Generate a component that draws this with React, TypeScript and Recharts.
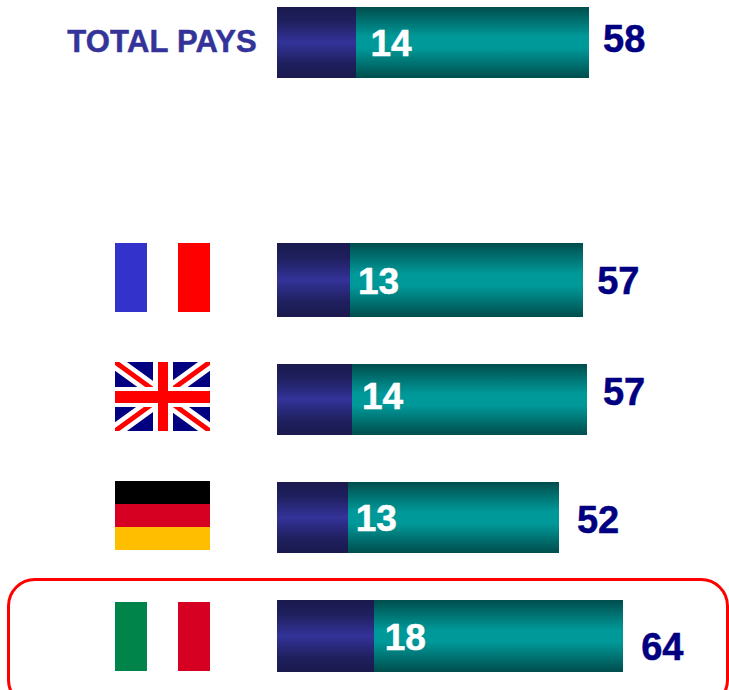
import React from 'react';
import { BarChart, Bar, XAxis, YAxis, LabelList } from 'recharts';

const categories = ['TOTAL PAYS', ' ', 'France', 'Royaume-Uni', 'Allemagne', 'Italie'];
const firstValues = [14.7, 0, 13.6, 13.9, 13.2, 18];
const totalValues = [57.8, 0, 56.7, 57.4, 52.2, 64.1];
const firstLabels = ['14', '', '13', '14', '13', '18'];
const totalLabels = ['58', '', '57', '57', '52', '64'];

const rows = categories.map((name, i) => ({
  name,
  first: firstValues[i],
  rest: totalValues[i] - firstValues[i],
}));

const innerNudge = [[14, 0], [0, 0], [7.5, 0], [10, -3.5], [7.5, 0], [10.5, 0]];
const outerNudge = [[14, -4.5], [0, 0], [14, 0], [16, -7.5], [18, 1.5], [18, 10]];
const extraHeight = [0, 0, 3, 0, 0, 1];
const barShift = [0, 0, 0, 0, 0, -1];
const flagNudge = [0, 0, -2.5, -2.5, -2, 0];

const FONT = '"Liberation Sans", Arial, sans-serif';

function FlagTick(props: any) {
  const { y, payload, index } = props;
  const name = payload.value;
  if (name === 'TOTAL PAYS') {
    return (
      <text x={257} y={y} dy={9.5} textAnchor="end" fontFamily={FONT} fontWeight="bold" fontSize={31} fill="#333399" stroke="#333399" strokeWidth={0.5} letterSpacing={0.2}>
        {name}
      </text>
    );
  }
  const top = Math.round(y - 34.5 + (flagNudge[index] || 0));
  const x = 115;
  const w = 95;
  const h = 69;
  if (name === 'France' || name === 'Italie') {
    const a = name === 'France' ? '#3333CC' : '#00844A';
    const c = name === 'France' ? '#FF0000' : '#D60022';
    return (
      <g>
        <rect x={x} y={top} width={32} height={h} fill={a} />
        <rect x={x + 63} y={top} width={32} height={h} fill={c} />
      </g>
    );
  }
  if (name === 'Allemagne') {
    return (
      <g>
        <rect x={x} y={top} width={w} height={23} fill="#000000" />
        <rect x={x} y={top + 23} width={w} height={23} fill="#D60022" />
        <rect x={x} y={top + 46} width={w} height={23} fill="#FFBF00" />
      </g>
    );
  }
  if (name === 'Royaume-Uni') {
    const r = x + w;
    const b = top + h;
    return (
      <g>
        <clipPath id="ukClip"><rect x={x} y={top} width={w} height={h} /></clipPath>
        <g clipPath="url(#ukClip)">
          <rect x={x} y={top} width={w} height={h} fill="#000080" />
          <path d={`M${x} ${top}L${r} ${b}M${r} ${top}L${x} ${b}`} stroke="#fff" strokeWidth={14} />
          <path d={`M${x} ${top}L${r} ${b}M${r} ${top}L${x} ${b}`} stroke="#FF0000" strokeWidth={5} />
          <rect x={x + 38} y={top} width={20} height={h} fill="#fff" />
          <rect x={x} y={top + 25} width={w} height={20} fill="#fff" />
          <rect x={x + 43} y={top} width={10} height={h} fill="#FF0000" />
          <rect x={x} y={top + 29} width={w} height={12} fill="#FF0000" />
        </g>
      </g>
    );
  }
  return null;
}

function GradBar(props: any) {
  const { x, y, width, height, index, fill } = props;
  if (!width) return null;
  const e = extraHeight[index] || 0;
  const left = Math.round(x);
  const right = Math.round(x + width);
  const top = Math.round(y - e / 2) + (barShift[index] || 0);
  return <rect x={left} y={top} width={right - left} height={Math.round(height + e)} fill={fill} shapeRendering="crispEdges" />;
}

function InnerLabel(props: any) {
  const { x, y, height, index } = props;
  const t = firstLabels[index];
  if (!t) return null;
  const [dx, dy] = innerNudge[index];
  return (
    <text x={x + dx} y={y + height / 2 + dy} dy={13.5} fontFamily={FONT} fontWeight="bold" fontSize={37} fill="#FFFFFF" stroke="#FFFFFF" strokeWidth={0.5}>
      {t}
    </text>
  );
}

function OuterLabel(props: any) {
  const { x, y, width, height, index } = props;
  const t = totalLabels[index];
  if (!t) return null;
  const [dx, dy] = outerNudge[index];
  return (
    <text x={x + width + dx} y={y + height / 2 + dy} dy={13.5} fontFamily={FONT} fontWeight="bold" fontSize={38} fill="#000080" stroke="#000080" strokeWidth={0.5}>
      {t}
    </text>
  );
}

export default function App() {
  return (
    <div style={{ position: 'absolute', left: 0, top: 0, width: 729, height: 690, overflow: 'hidden', background: '#fff' }}>
      <div style={{ position: 'absolute', left: 0, top: -17 }}>
        <BarChart
          width={729}
          height={713}
          data={rows}
          layout="vertical"
          margin={{ top: 0, right: 20, bottom: 0, left: 0 }}
          barCategoryGap={0}
        >
          <defs>
            <linearGradient id="navyGrad" x1="0" y1="0" x2="0" y2="1">
              <stop offset="0" stopColor="#1A1A4E" />
              <stop offset="0.2" stopColor="#1F1F5E" />
              <stop offset="0.5" stopColor="#333399" />
              <stop offset="0.8" stopColor="#1F1F5E" />
              <stop offset="1" stopColor="#1A1A4E" />
            </linearGradient>
            <linearGradient id="tealGrad" x1="0" y1="0" x2="0" y2="1">
              <stop offset="0" stopColor="#004D4D" />
              <stop offset="0.42" stopColor="#009999" />
              <stop offset="0.58" stopColor="#009999" />
              <stop offset="1" stopColor="#004D4D" />
            </linearGradient>
          </defs>
          <XAxis type="number" domain={[0, 80]} hide />
          <YAxis
            type="category"
            dataKey="name"
            width={277}
            axisLine={false}
            tickLine={false}
            interval={0}
            tick={FlagTick}
          />
          <Bar dataKey="first" stackId="a" barSize={71} fill="url(#navyGrad)" shape={GradBar} isAnimationActive={false} />
          <Bar dataKey="rest" stackId="a" barSize={71} fill="url(#tealGrad)" shape={GradBar} isAnimationActive={false}>
            <LabelList dataKey="rest" content={InnerLabel} />
            <LabelList dataKey="rest" content={OuterLabel} />
          </Bar>
        </BarChart>
      </div>
      <div
        style={{
          position: 'absolute',
          left: 7,
          top: 578,
          width: 722,
          height: 130,
          boxSizing: 'border-box',
          border: '3.5px solid #FF0000',
          borderRadius: 28,
        }}
      />
    </div>
  );
}
